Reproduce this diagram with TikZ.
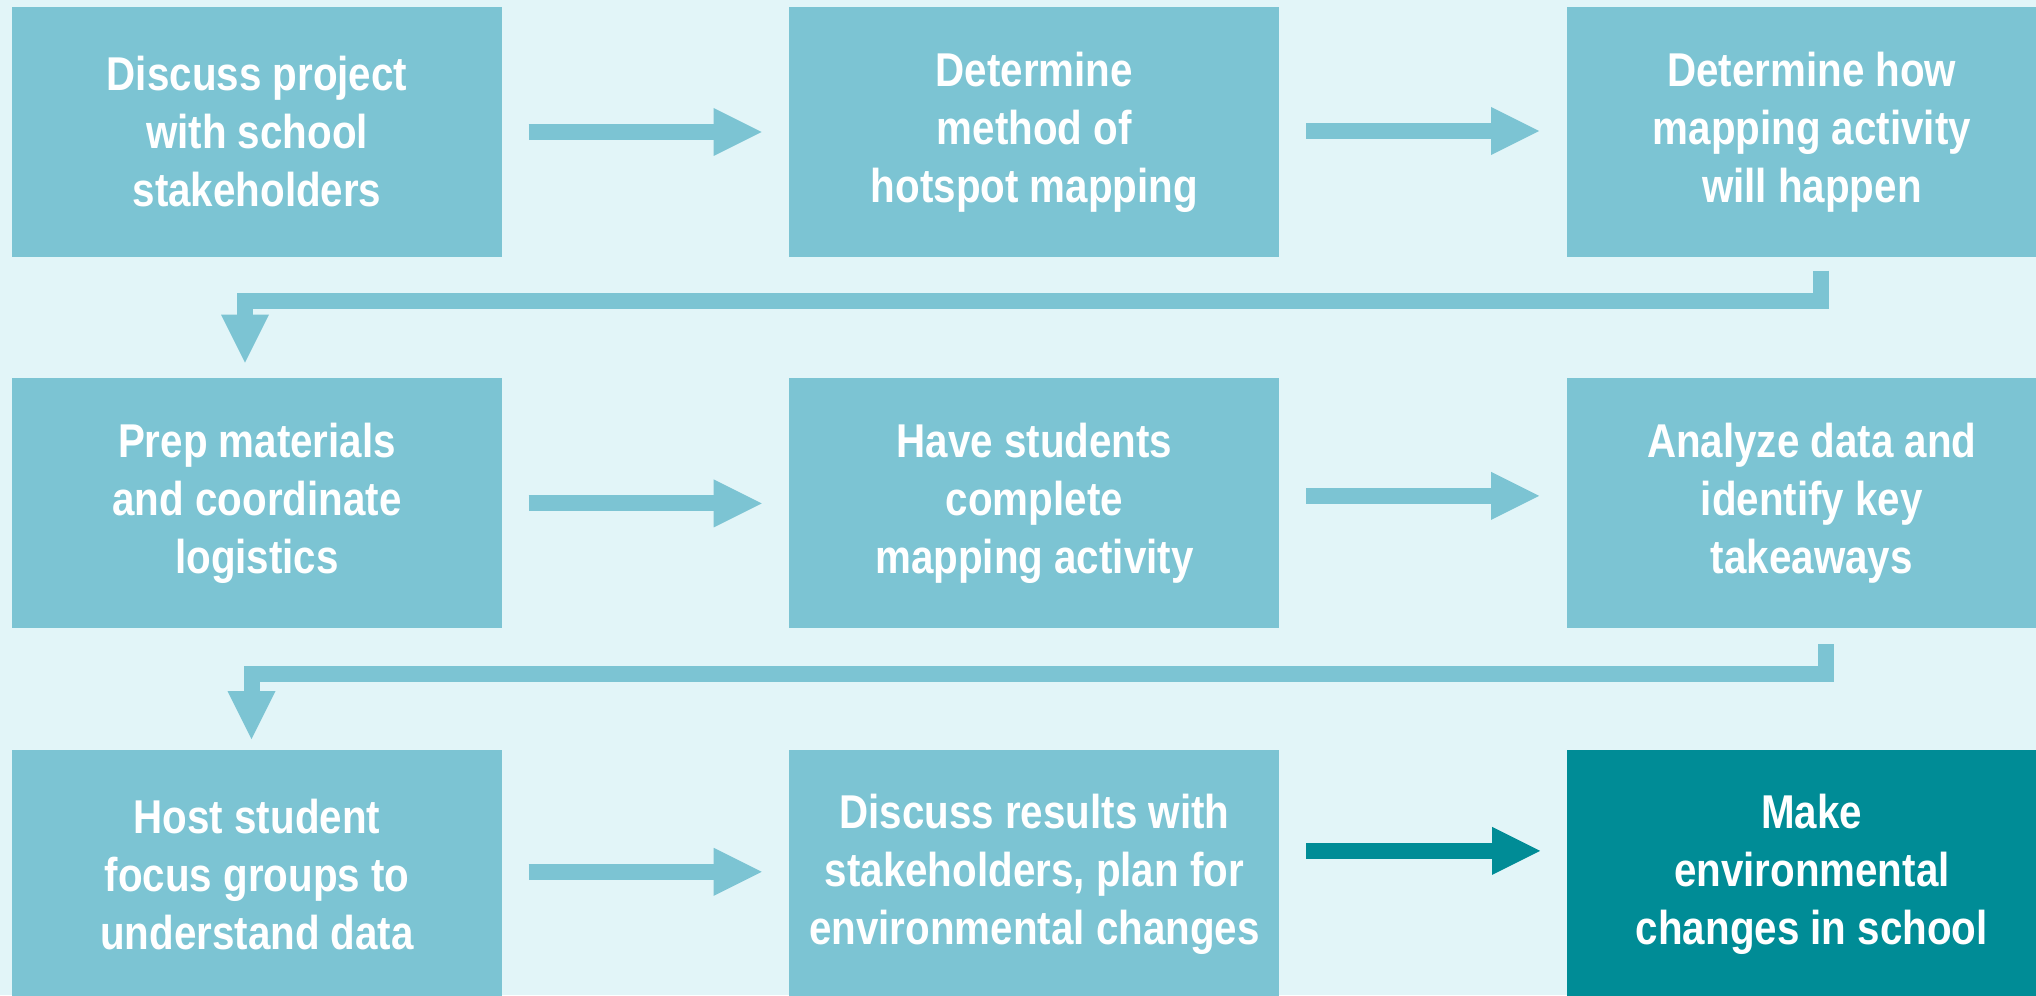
\documentclass[tikz,border=0pt]{standalone}
\usepackage{fontspec}
\setmainfont{Liberation Sans}[FakeStretch=0.85]
\usetikzlibrary{positioning,arrows.meta}
\definecolor{boxblue}{HTML}{7CC4D3}
\definecolor{paleblue}{HTML}{E2F5F8}
\definecolor{deepteal}{HTML}{008C96}
\begin{document}
\begin{tikzpicture}[
        stepbox/.style={rectangle,fill=boxblue,text=white,inner sep=0pt,
            minimum width=4.9cm,minimum height=2.5cm,align=center,
            font=\fontsize{13.5}{16.5}\selectfont\bfseries},
        flow/.style={draw=boxblue,line width=1.6mm,line join=miter,
            -{Triangle[length=4.8mm,width=4.8mm,line width=0pt]}}
    ]
    \fill[paleblue] (0,0) rectangle (20.36,9.95);
    \clip (0,0) rectangle (20.36,9.95);
    %% steps
    \node[stepbox] (b1) at (2.57,8.63) {Discuss project\\with school\\stakeholders};
    \node[stepbox,right=2.86cm of b1] (b2) {Determine\\method of\\hotspot mapping};
    \node[stepbox,right=2.86cm of b2] (b3) {Determine how\\mapping activity\\will happen};
    \node[stepbox,below=1.2cm of b1] (b4) {Prep materials\\and coordinate\\logistics};
    \node[stepbox,right=2.86cm of b4] (b5) {Have students\\complete\\mapping activity};
    \node[stepbox,right=2.86cm of b5] (b6) {Analyze data and\\identify key\\takeaways};
    \node[stepbox,below=1.2cm of b4] (b7) {Host student\\focus groups to\\understand data};
    \node[stepbox,right=2.86cm of b7] (b8) {Discuss results with\\stakeholders, plan for\\environmental changes};
    \node[stepbox,right=2.86cm of b8,fill=deepteal] (b9) {Make\\environmental\\changes in school};
    %% arrows along the rows
    \foreach \a/\b/\s in {b1/b2/0,b2/b3/0.01,b4/b5/0,b5/b6/0.075,b7/b8/0.03}
        \draw[flow] ([xshift=0.26cm,yshift=\s cm]\a.east) -- ([xshift=-0.27cm,yshift=\s cm]\b.west);
    \draw[flow,draw=deepteal] ([xshift=0.26cm,yshift=0.24cm]b8.east) -- ([xshift=-0.26cm,yshift=0.24cm]b9.west);
    %% arrows down to the next row
    \draw[flow] ([xshift=0.09cm,yshift=-0.13cm]b3.south) -- ++(0,-0.3) -| ([xshift=-0.12cm,yshift=0.15cm]b4.north);
    \draw[flow] ([xshift=0.145cm,yshift=-0.15cm]b6.south) -- ++(0,-0.3) -| ([xshift=-0.055cm,yshift=0.10cm]b7.north);
\end{tikzpicture}
\end{document}
